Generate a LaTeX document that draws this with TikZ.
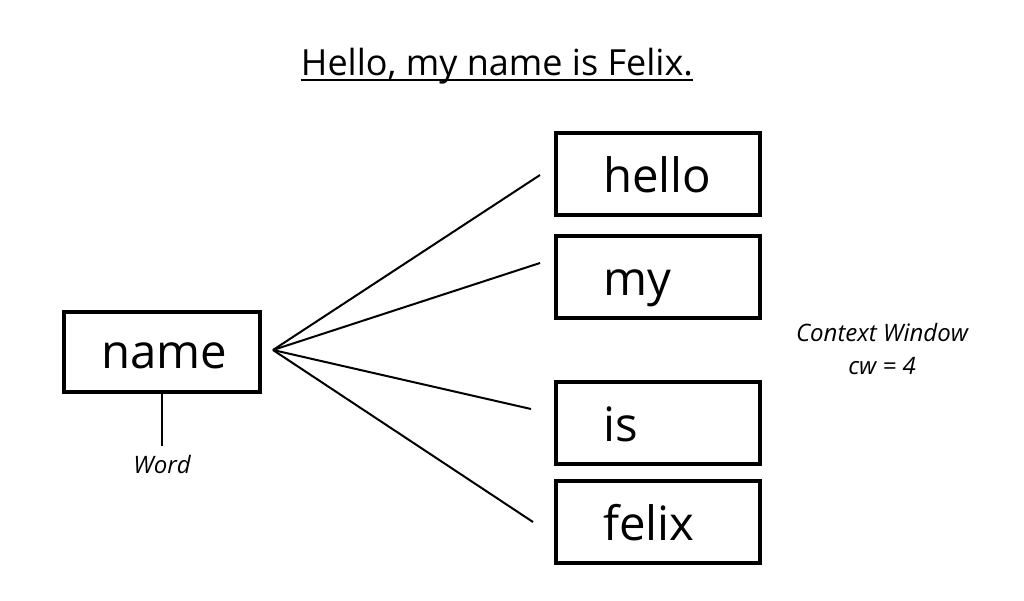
\documentclass[tikz,border=0pt]{standalone}
\usepackage{fontspec}
\setmainfont{Open Sans}
\begin{document}
\begin{tikzpicture}[x=0.75pt,y=-0.75pt,
  wordbox/.style={draw,line width=3pt,inner xsep=35.5pt,inner ysep=0pt,text width=82pt,align=left,minimum height=61.5pt,font=\fontsize{35.5}{40}\selectfont,text height=33pt,text depth=5.5pt},
  link/.style={line width=1.5pt},
  note/.style={font=\itshape\fontsize{18}{25}\selectfont,align=center,inner sep=0pt}]
\useasboundingbox (0,0) rectangle (1024,600);
\fill[white] (0,0) rectangle (1024,600);
% title
\node[inner sep=0pt,anchor=base,font=\fontsize{27}{32}\selectfont] (title) at (497,75) {Hello, my name is Felix.};
\draw[line width=1.5pt] ([yshift=-4pt]title.base west) -- ([yshift=-4pt]title.base east);
% center word
\node[draw,line width=3pt,minimum width=147pt,minimum height=60pt,inner xsep=0pt,inner ysep=0pt,font=\fontsize{35.5}{40}\selectfont,text height=31pt,text depth=6pt] (name) at (162,352) {\hspace*{3pt}name};
% context boxes
\node[wordbox] (hello) at (658,174) {hello};
\node[wordbox] (my) at (658,277) {my};
\node[wordbox] (is) at (658,423) {is};
\node[wordbox] (felix) at (658,522) {felix};
% connectors
\coordinate (hub) at (273,350);
\coordinate (e1) at (540,175);
\coordinate (e2) at (540,263);
\coordinate (e3) at (531,409);
\coordinate (e4) at (533,522);
\draw[link] (hub) -- (e1);
\draw[link] (hub) -- (e2);
\draw[link] (hub) -- (e3);
\draw[link] (hub) -- (e4);
% word label
\coordinate (wend) at (162,446);
\draw[line width=1.5pt] (name.south -| wend) -- (wend);
\node[note] (word) at (162,464) {Word};
\node[note] (cw) at (882,349) {Context Window\\cw = 4};
\end{tikzpicture}
\end{document}
